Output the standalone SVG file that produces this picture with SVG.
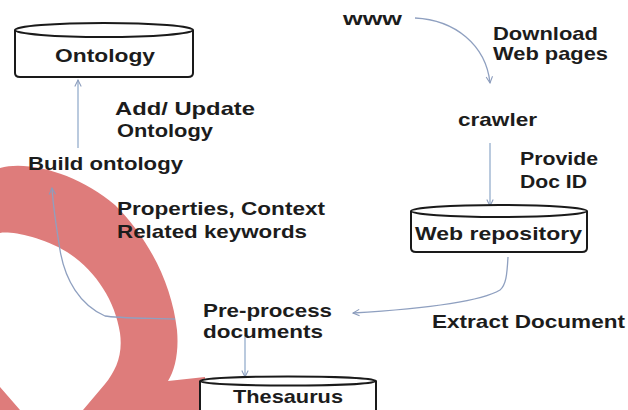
<svg xmlns="http://www.w3.org/2000/svg" width="628" height="410" viewBox="0 0 628 410">
<defs>
<style>
text{font-family:"Liberation Sans",Arial,sans-serif;font-weight:bold;font-size:19px;fill:#1c1c1c}
.db{fill:#fff;stroke:#1a1a1a;stroke-width:2}
.c{fill:none;stroke:#8fa0c0;stroke-width:1.3}
.s{fill:none;stroke:#a9bdd6;stroke-width:1.6}
</style>
<marker id="ah" viewBox="0 0 10 10" refX="9" refY="5" markerWidth="8" markerHeight="8" markerUnits="userSpaceOnUse" orient="auto">
<path d="M1,1 L9,5 L1,9" fill="none" stroke="#8a9bbb" stroke-width="1.3"/>
</marker>
</defs>
<rect width="628" height="410" fill="#fff"/>
<path id="mark" fill="#de7c7b" fill-rule="evenodd" d="M0,168 C30,160 80,175 115,205 C150,240 172,285 177,330 C179,352 175,370 168,381 L205,377 L205,410 L0,410 Z M0,233 C10,231 40,236 67,252 C95,270 115,300 120,333 C123,355 116,370 105,384 L83,410 L20,410 L0,387 Z"/>
<g id="connectors">
<path class="s" d="M78,148 L78,80" marker-end="url(#ah)"/>
<path class="c" d="M415,18 C455,20 486,45 490,83" marker-end="url(#ah)"/>
<path class="s" d="M490,143 L490,206" marker-end="url(#ah)"/>
<path class="c" d="M508,257 C507,275 506,285 500,290 C480,302 420,309 353,313" marker-end="url(#ah)"/>
<path class="c" d="M175,319 C140,318 115,318 105,316 C80,305 65,280 60,250 C56,225 53,205 52,188" marker-end="url(#ah)"/>
<path class="s" d="M245,335 L245,377" marker-end="url(#ah)"/>
</g>
<g id="ontology">
<path class="db" d="M15,30 L15,73 Q15,77 20,77 L188,77 Q193,77 193,73 L193,30"/>
<ellipse class="db" cx="104" cy="30" rx="89" ry="7"/>
<text x="55" y="62" textLength="100" lengthAdjust="spacingAndGlyphs">Ontology</text>
</g>
<g id="build-ontology">
<text x="28" y="170" textLength="155" lengthAdjust="spacingAndGlyphs">Build ontology</text>
</g>
<g id="www">
<text x="343" y="25" textLength="59" lengthAdjust="spacingAndGlyphs">www</text>
</g>
<g id="crawler">
<text x="458" y="126" textLength="79" lengthAdjust="spacingAndGlyphs">crawler</text>
</g>
<g id="web-repository">
<path class="db" d="M411,211 L411,248 Q411,252 416,252 L582,252 Q587,252 587,248 L587,211"/>
<ellipse class="db" cx="499" cy="211" rx="88" ry="6"/>
<text x="415" y="240" textLength="167" lengthAdjust="spacingAndGlyphs">Web repository</text>
</g>
<g id="pre-process">
<text x="203" y="317" textLength="129" lengthAdjust="spacingAndGlyphs">Pre-process</text>
<text x="203" y="338" textLength="120" lengthAdjust="spacingAndGlyphs">documents</text>
</g>
<g id="thesaurus">
<path class="db" d="M200,381 L200,415 L376,415 L376,381"/>
<ellipse class="db" cx="288" cy="381" rx="88" ry="4.5"/>
<text x="233" y="403" textLength="110" lengthAdjust="spacingAndGlyphs">Thesaurus</text>
</g>
<g id="labels">
<text x="115" y="115" textLength="140" lengthAdjust="spacingAndGlyphs">Add/ Update</text>
<text x="117" y="137" textLength="96" lengthAdjust="spacingAndGlyphs">Ontology</text>
<text x="493" y="40" textLength="105" lengthAdjust="spacingAndGlyphs">Download</text>
<text x="493" y="60" textLength="115" lengthAdjust="spacingAndGlyphs">Web pages</text>
<text x="520" y="165" textLength="78" lengthAdjust="spacingAndGlyphs">Provide</text>
<text x="520" y="188" textLength="67" lengthAdjust="spacingAndGlyphs">Doc ID</text>
<text x="117" y="215" textLength="208" lengthAdjust="spacingAndGlyphs">Properties, Context</text>
<text x="117" y="238" textLength="190" lengthAdjust="spacingAndGlyphs">Related keywords</text>
<text x="432" y="328" textLength="193" lengthAdjust="spacingAndGlyphs">Extract Document</text>
</g>
</svg>
